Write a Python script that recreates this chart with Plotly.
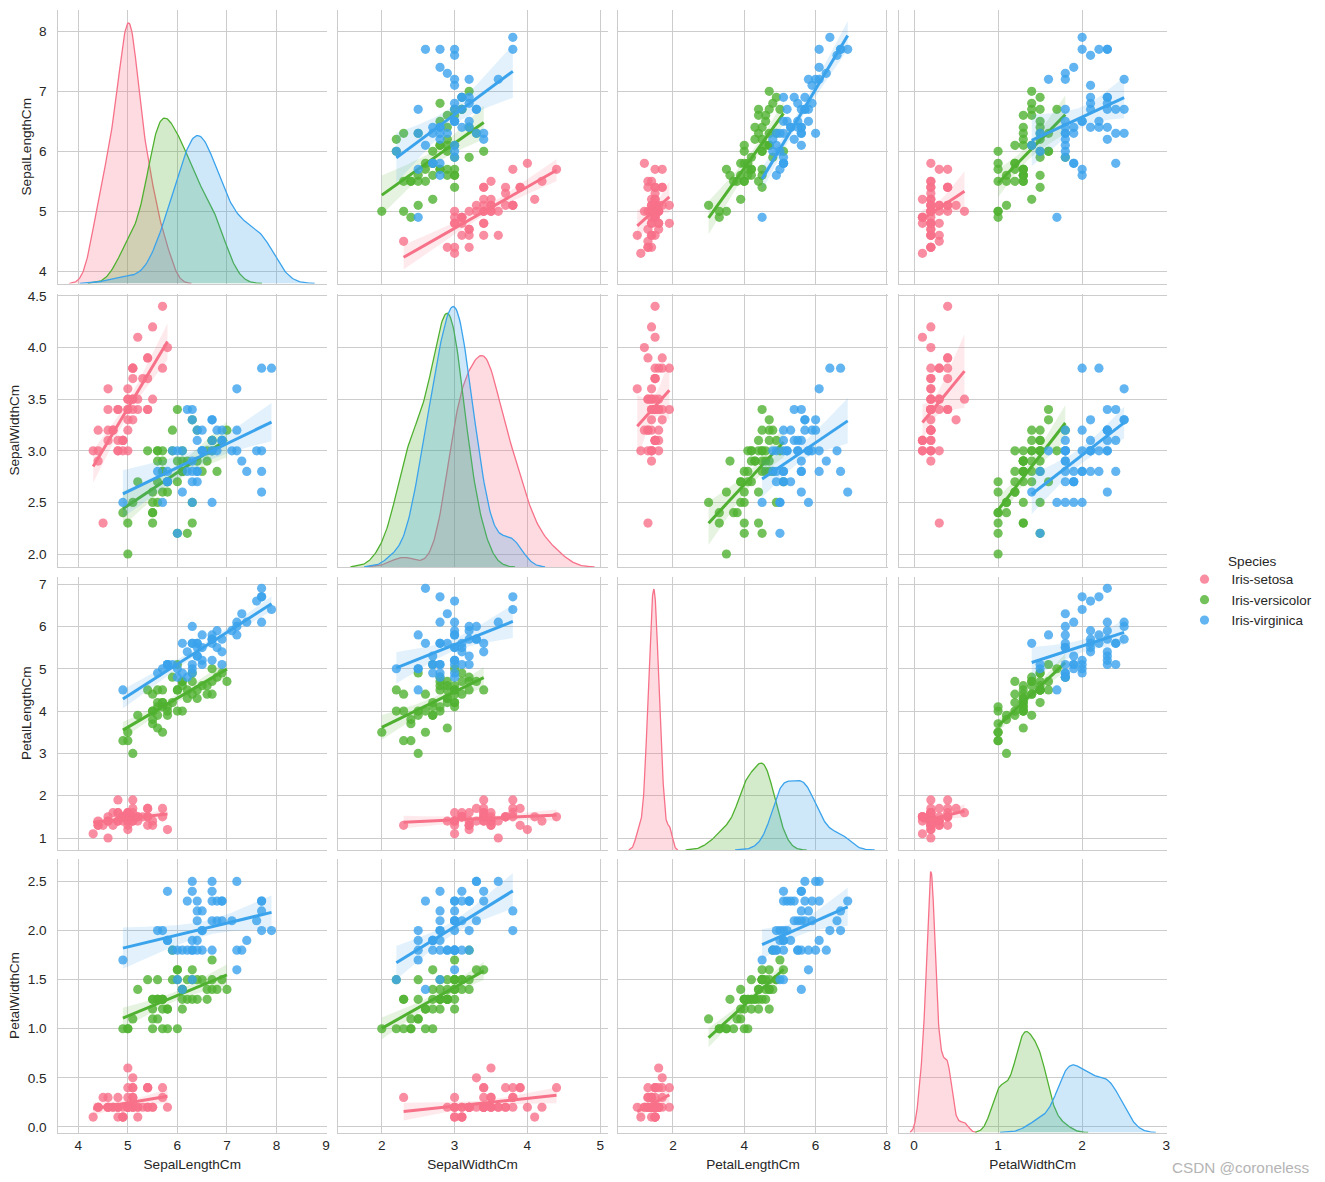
import numpy as np
import plotly.graph_objects as go

species = ["Iris-setosa", "Iris-versicolor", "Iris-virginica"]
colors = ["#f77189", "#50b131", "#3ba3ec"]
features = ["SepalLengthCm", "SepalWidthCm", "PetalLengthCm", "PetalWidthCm"]

setosa_sl = [5.1,4.9,4.7,4.6,5.0,5.4,4.6,5.0,4.4,4.9,5.4,4.8,4.8,4.3,5.8,5.7,5.4,5.1,5.7,5.1,5.4,5.1,4.6,5.1,4.8,5.0,5.0,5.2,5.2,4.7,4.8,5.4,5.2,5.5,4.9,5.0,5.5,4.9,4.4,5.1,5.0,4.5,4.4,5.0,5.1,4.8,5.1,4.6,5.3,5.0]
setosa_sw = [3.5,3.0,3.2,3.1,3.6,3.9,3.4,3.4,2.9,3.1,3.7,3.4,3.0,3.0,4.0,4.4,3.9,3.5,3.8,3.8,3.4,3.7,3.6,3.3,3.4,3.0,3.4,3.5,3.4,3.2,3.1,3.4,4.1,4.2,3.1,3.2,3.5,3.1,3.0,3.4,3.5,2.3,3.2,3.5,3.8,3.0,3.8,3.2,3.7,3.3]
setosa_pl = [1.4,1.4,1.3,1.5,1.4,1.7,1.4,1.5,1.4,1.5,1.5,1.6,1.4,1.1,1.2,1.5,1.3,1.4,1.7,1.5,1.7,1.5,1.0,1.7,1.9,1.6,1.6,1.5,1.4,1.6,1.6,1.5,1.5,1.4,1.5,1.2,1.3,1.5,1.3,1.5,1.3,1.3,1.3,1.6,1.9,1.4,1.6,1.4,1.5,1.4]
setosa_pw = [0.2,0.2,0.2,0.2,0.2,0.4,0.3,0.2,0.2,0.1,0.2,0.2,0.1,0.1,0.2,0.4,0.4,0.3,0.3,0.3,0.2,0.4,0.2,0.5,0.2,0.2,0.4,0.2,0.2,0.2,0.2,0.4,0.1,0.2,0.1,0.2,0.2,0.1,0.2,0.2,0.3,0.3,0.2,0.6,0.4,0.3,0.2,0.2,0.2,0.2]
versicolor_sl = [7.0,6.4,6.9,5.5,6.5,5.7,6.3,4.9,6.6,5.2,5.0,5.9,6.0,6.1,5.6,6.7,5.6,5.8,6.2,5.6,5.9,6.1,6.3,6.1,6.4,6.6,6.8,6.7,6.0,5.7,5.5,5.5,5.8,6.0,5.4,6.0,6.7,6.3,5.6,5.5,5.5,6.1,5.8,5.0,5.6,5.7,5.7,6.2,5.1,5.7]
versicolor_sw = [3.2,3.2,3.1,2.3,2.8,2.8,3.3,2.4,2.9,2.7,2.0,3.0,2.2,2.9,2.9,3.1,3.0,2.7,2.2,2.5,3.2,2.8,2.5,2.8,2.9,3.0,2.8,3.0,2.9,2.6,2.4,2.4,2.7,2.7,3.0,3.4,3.1,2.3,3.0,2.5,2.6,3.0,2.6,2.3,2.7,3.0,2.9,2.9,2.5,2.8]
versicolor_pl = [4.7,4.5,4.9,4.0,4.6,4.5,4.7,3.3,4.6,3.9,3.5,4.2,4.0,4.7,3.6,4.4,4.5,4.1,4.5,3.9,4.8,4.0,4.9,4.7,4.3,4.4,4.8,5.0,4.5,3.5,3.8,3.7,3.9,5.1,4.5,4.5,4.7,4.4,4.1,4.0,4.4,4.6,4.0,3.3,4.2,4.2,4.2,4.3,3.0,4.1]
versicolor_pw = [1.4,1.5,1.5,1.3,1.5,1.3,1.6,1.0,1.3,1.4,1.0,1.5,1.0,1.4,1.3,1.4,1.5,1.0,1.5,1.1,1.8,1.3,1.5,1.2,1.3,1.4,1.4,1.7,1.5,1.0,1.1,1.0,1.2,1.6,1.5,1.6,1.5,1.3,1.3,1.3,1.2,1.4,1.2,1.0,1.3,1.2,1.3,1.3,1.1,1.3]
virginica_sl = [6.3,5.8,7.1,6.3,6.5,7.6,4.9,7.3,6.7,7.2,6.5,6.4,6.8,5.7,5.8,6.4,6.5,7.7,7.7,6.0,6.9,5.6,7.7,6.3,6.7,7.2,6.2,6.1,6.4,7.2,7.4,7.9,6.4,6.3,6.1,7.7,6.3,6.4,6.0,6.9,6.7,6.9,5.8,6.8,6.7,6.7,6.3,6.5,6.2,5.9]
virginica_sw = [3.3,2.7,3.0,2.9,3.0,3.0,2.5,2.9,2.5,3.6,3.2,2.7,3.0,2.5,2.8,3.2,3.0,3.8,2.6,2.2,3.2,2.8,2.8,2.7,3.3,3.2,2.8,3.0,2.8,3.0,2.8,3.8,2.8,2.8,2.6,3.0,3.4,3.1,3.0,3.1,3.1,3.1,2.7,3.2,3.3,3.0,2.5,3.0,3.4,3.0]
virginica_pl = [6.0,5.1,5.9,5.6,5.8,6.6,4.5,6.3,5.8,6.1,5.1,5.3,5.5,5.0,5.1,5.3,5.5,6.7,6.9,5.0,5.7,4.9,6.7,4.9,5.7,6.0,4.8,4.9,5.6,5.8,6.1,6.4,5.6,5.1,5.6,6.1,5.6,5.5,4.8,5.4,5.6,5.1,5.1,5.9,5.7,5.2,5.0,5.2,5.4,5.1]
virginica_pw = [2.5,1.9,2.1,1.8,2.2,2.1,1.7,1.8,1.8,2.5,2.0,1.9,2.1,2.0,2.4,2.3,1.8,2.2,2.3,1.5,2.3,2.0,2.0,1.8,2.1,1.8,1.8,1.8,2.1,1.6,1.9,2.0,2.2,1.5,1.4,2.3,2.4,1.8,1.8,2.1,2.4,2.3,1.9,2.3,2.5,2.3,1.9,2.0,2.3,1.8]

x_ticks = [[4,5,6,7,8,9], [2,3,4,5], [2,4,6,8], [0,1,2,3]]
y_ticks = [[4,5,6,7,8], [2.0,2.5,3.0,3.5,4.0,4.5], [1,2,3,4,5,6,7], [0.0,0.5,1.0,1.5,2.0,2.5]]
y_tick_text = [["4","5","6","7","8"], ["2.0","2.5","3.0","3.5","4.0","4.5"], ["1","2","3","4","5","6","7"], ["0.0","0.5","1.0","1.5","2.0","2.5"]]
x_ranges = [[3.58, 9.02], [1.392, 5.10], [0.46, 8.03], [-0.185, 3.01]]
y_ranges = [[3.797, 8.355], [1.874, 4.524], [0.717, 7.18], [-0.057, 2.734]]

W, H = 1325, 1182
# plotly keeps a small margin (r=3, t=5, b=2) around the plot area, so paper
# fractions are measured against the reduced area
PL, PT, PW, PH = 0, 5, 1322, 1175
col_px = [(57.5, 327), (337.5, 607.5), (618, 888), (898.5, 1167)]
row_px = [(10, 283.5), (293.5, 567), (576.5, 850), (858.5, 1132.5)]
TEXT = "#262626"
GRID = "#cccccc"
FONT = "Liberation Sans, Arial, sans-serif"
FS = 13.6


def fx(px):
    return (px - PL) / PW


def fy(py):
    return 1 - (py - PT) / PH


data = [
    [setosa_sl, setosa_sw, setosa_pl, setosa_pw],
    [versicolor_sl, versicolor_sw, versicolor_pl, versicolor_pw],
    [virginica_sl, virginica_sw, virginica_pl, virginica_pw],
]
data = [[np.array(v) for v in group] for group in data]


def rgba(hex_color, alpha):
    r, g, b = int(hex_color[1:3], 16), int(hex_color[3:5], 16), int(hex_color[5:7], 16)
    return f"rgba({r},{g},{b},{alpha})"


def kde(v):
    bw = v.std(ddof=1) * len(v) ** (-1 / 5)
    grid = np.linspace(v.min() - 3 * bw, v.max() + 3 * bw, 200)
    d = np.exp(-0.5 * ((grid[:, None] - v) / bw) ** 2).sum(axis=1) / (len(v) * bw * np.sqrt(2 * np.pi))
    return grid, d


def fit_band(x, y):
    b, a = np.polyfit(x, y, 1)
    grid = np.linspace(x.min(), x.max(), 100)
    fit = a + b * grid
    res = y - (a + b * x)
    n = len(x)
    s = np.sqrt((res ** 2).sum() / (n - 2))
    se = s * np.sqrt(1 / n + (grid - x.mean()) ** 2 / ((x - x.mean()) ** 2).sum())
    return grid, fit, fit - 1.96 * se, fit + 1.96 * se


fig = go.Figure()
layout = {}


def name(prefix, n):
    return prefix + (str(n) if n > 1 else "")


for r in range(4):
    for c in range(4):
        n = r * 4 + c + 1
        xn, yn = name("x", n), name("y", n)
        x0, x1 = col_px[c]
        y0, y1 = row_px[r]
        layout[name("xaxis", n)] = dict(
            domain=[fx(x0), min(fx(x1), 1)], range=x_ranges[c], anchor=yn,
            tickmode="array", tickvals=x_ticks[c], ticktext=[str(t) for t in x_ticks[c]],
            showticklabels=r == 3, ticks="", showgrid=True, gridcolor=GRID, gridwidth=1.2,
            showline=True, linecolor=GRID, linewidth=1.3, zeroline=False,
            ticklabelstandoff=0,
            title=dict(text=features[c] if r == 3 else "", font=dict(size=FS, color=TEXT), standoff=7),
            tickfont=dict(size=FS, color=TEXT),
        )
        layout[name("yaxis", n)] = dict(
            domain=[fy(y1), fy(y0)], range=y_ranges[r], anchor=xn,
            tickmode="array", tickvals=y_ticks[r], ticktext=y_tick_text[r],
            showticklabels=c == 0, ticks="", showgrid=True, gridcolor=GRID, gridwidth=1.2,
            showline=True, linecolor=GRID, linewidth=1.3, zeroline=False,
            ticklabelstandoff=7,
            title=dict(text=features[r] if c == 0 else "", font=dict(size=FS, color=TEXT), standoff=4),
            tickfont=dict(size=FS, color=TEXT),
        )
        if r == c:
            # grid-carrying axis stays empty; densities live on an overlaid axis
            fig.add_trace(go.Scatter(x=[None], y=[None], xaxis=xn, yaxis=yn, showlegend=False, hoverinfo="skip"))
            ky = 16 + r + 1
            curves = [kde(group[c]) for group in data]
            top = max(d.max() for _, d in curves) * 1.05
            layout[f"yaxis{ky}"] = dict(
                overlaying=yn, anchor=xn, range=[0, top], visible=False,
                showgrid=False, zeroline=False,
            )
            for i, (g, d) in enumerate(curves):
                fig.add_trace(go.Scatter(
                    x=np.r_[g[0], g, g[-1]], y=np.r_[0, d, 0], mode="lines", fill="toself",
                    fillcolor=rgba(colors[i], 0.25), line=dict(color=colors[i], width=1.3),
                    xaxis=xn, yaxis=f"y{ky}", showlegend=False, hoverinfo="skip",
                ))
        else:
            for i, group in enumerate(data):
                xv, yv = group[c], group[r]
                fig.add_trace(go.Scatter(
                    x=xv, y=yv, mode="markers", name=species[i],
                    marker=dict(color=colors[i], size=9.2, opacity=0.8, line=dict(width=0)),
                    xaxis=xn, yaxis=yn, showlegend=(r == 0 and c == 1), hoverinfo="skip",
                ))
                g, fit, lo, hi = fit_band(xv, yv)
                fig.add_trace(go.Scatter(
                    x=np.r_[g, g[::-1]], y=np.r_[lo, hi[::-1]], mode="lines", fill="toself",
                    fillcolor=rgba(colors[i], 0.15), line=dict(width=0),
                    xaxis=xn, yaxis=yn, showlegend=False, hoverinfo="skip",
                ))
                fig.add_trace(go.Scatter(
                    x=g, y=fit, mode="lines", line=dict(color=colors[i], width=3),
                    xaxis=xn, yaxis=yn, showlegend=False, hoverinfo="skip",
                ))

fig.update_layout(
    width=W, height=H, margin=dict(l=0, r=0, t=0, b=0), autosize=False,
    paper_bgcolor="white", plot_bgcolor="rgba(0,0,0,0)",
    font=dict(family=FONT, size=FS, color=TEXT),
    legend=dict(x=fx(1177.5), y=fy(564),
                xanchor="left", yanchor="top", itemwidth=44, entrywidth=85,
                itemsizing="trace", bgcolor="rgba(0,0,0,0)", font=dict(size=13.4, color=TEXT)),
    annotations=[
        dict(text="Species", x=fx(1252), y=fy(561), xref="paper", yref="paper",
             showarrow=False, font=dict(size=FS, color=TEXT), xanchor="center", yanchor="middle"),
        dict(text="CSDN @coroneless", x=fx(1311), y=fy(1167), xref="paper", yref="paper",
             showarrow=False, font=dict(size=15.3, color="#b4b4b4"), xanchor="right", yanchor="middle"),
    ],
    **layout,
)

fig.write_html("out.html", config={"displayModeBar": False}, post_script="document.body.style.margin='0';")
